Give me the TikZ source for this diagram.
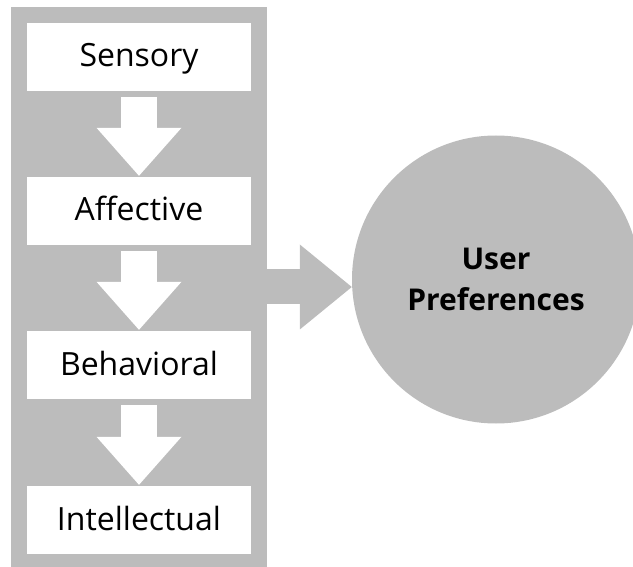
\documentclass[tikz,border=0pt]{standalone}
\usepackage{fontspec}
\setsansfont{Open Sans}
\usetikzlibrary{arrows.meta}
\definecolor{panelgray}{RGB}{188,188,188}
\begin{document}
\begin{tikzpicture}[font=\sffamily, x=1pt, y=-1pt,
    level/.style={fill=white, minimum width=224pt, minimum height=68pt, inner sep=0pt,
      text height=22pt, text depth=2pt, font=\sffamily\fontsize{32}{36}\selectfont},
    flow/.style={white, line width=36pt, shorten <=6pt, shorten >=1pt,
      -{Triangle[width=85pt, length=48pt, line width=0pt]}}]
        \useasboundingbox (0,0) rectangle (633,567);
        \node[fill=panelgray, minimum width=256pt, minimum height=560pt, inner sep=0pt] (col) at (139,287) {};
        \node[level] (sens) at (139,57) {Sensory};
        \node[level] (aff) at (139,211) {Affective};
        \node[level] (beh) at (139,365) {Behavioral};
        \node[level] (int) at (139,520) {Intellectual};
        \draw[flow] (sens) -- (aff);
        \draw[flow] (aff) -- (beh);
        \draw[flow] (beh) -- (int);
        \node[circle, fill=panelgray, minimum size=288pt, inner sep=0pt, align=center,
          font=\sffamily\bfseries\fontsize{30}{41}\selectfont] (pref) at (496,279.5) {User\\Preferences};
        \draw[panelgray, line width=35pt, -{Triangle[width=85pt, length=52pt, line width=0pt]}] (col.east) -- (pref.west |- col.east);
      \end{tikzpicture}
\end{document}
